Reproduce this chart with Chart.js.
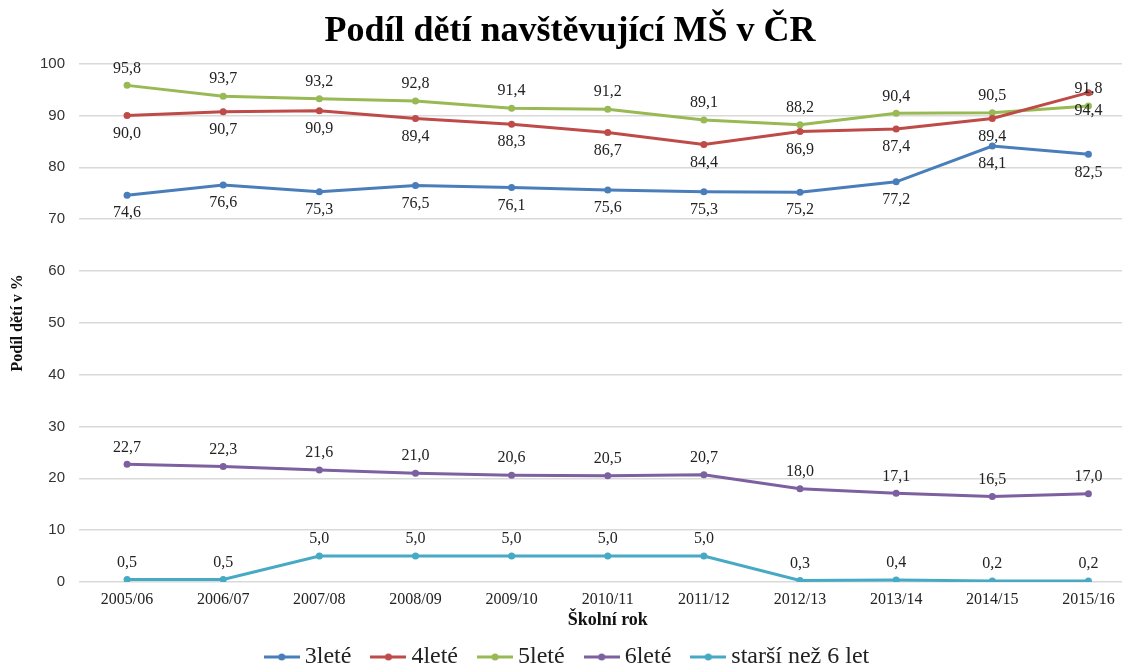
<!DOCTYPE html>
<html><head><meta charset="utf-8">
<script src="https://cdn.jsdelivr.net/npm/chart.js@4.4.0/dist/chart.umd.min.js"></script>
<style>
html,body{margin:0;padding:0;background:#fff;overflow:hidden;width:1122px;height:666px}
#wrap{position:absolute;left:0;top:0;width:1140px;height:666px}
</style></head><body>
<div id="wrap"><canvas id="c" width="1140" height="666"></canvas></div>
<script>
const categories = ['2005/06','2006/07','2007/08','2008/09','2009/10','2010/11','2011/12','2012/13','2013/14','2014/15','2015/16'];
const seriesNames = ['3leté','4leté','5leté','6leté','starší než 6 let'];
const values3 = [74.6,76.6,75.3,76.5,76.1,75.6,75.3,75.2,77.2,84.1,82.5];
const values4 = [90.0,90.7,90.9,89.4,88.3,86.7,84.4,86.9,87.4,89.4,94.4];
const values5 = [95.8,93.7,93.2,92.8,91.4,91.2,89.1,88.2,90.4,90.5,91.8];
const values6 = [22.7,22.3,21.6,21.0,20.6,20.5,20.7,18.0,17.1,16.5,17.0];
const valuesOlder = [0.5,0.5,5.0,5.0,5.0,5.0,5.0,0.3,0.4,0.2,0.2];
const labelSide = ['below','below','above','above','above'];
const colors = ['#4A7EBB','#BE4B48','#98B954','#7D60A0','#46AAC5'];
const allValues = [values3,values4,values5,values6,valuesOlder];

function legendIcon(color){
  const c = document.createElement('canvas'); c.width = 36; c.height = 12;
  const g = c.getContext('2d');
  g.strokeStyle = color; g.lineWidth = 3;
  g.beginPath(); g.moveTo(0,6); g.lineTo(36,6); g.stroke();
  g.fillStyle = color; g.beginPath(); g.arc(18,6,3.5,0,Math.PI*2); g.fill();
  return c;
}

const dataLabels = {
  id:'dataLabels',
  afterDatasetsDraw(chart){
    const ctx = chart.ctx;
    ctx.save();
    ctx.font = '16px "Liberation Serif"';
    ctx.fillStyle = '#222';
    ctx.textAlign = 'center'; ctx.textBaseline = 'middle';
    chart.data.datasets.forEach((ds,i)=>{
      const meta = chart.getDatasetMeta(i);
      meta.data.forEach((pt,j)=>{
        const v = ds.data[j];
        const t = v.toFixed(1).replace('.',',');
        const dy = labelSide[i]==='above' ? -17 : 18;
        ctx.fillText(t, pt.x, pt.y+dy);
      });
    });
    ctx.restore();
  }
};

const legendHeight = {
  id:'legendHeight',
  afterInit(chart){
    const lg = chart.legend;
    if(!lg) return;
    const f = lg.fit.bind(lg);
    lg.fit = function(){ f(); this.height = 47; };
  }
};

new Chart(document.getElementById('c'),{
  type:'line',
  data:{
    labels:categories,
    datasets: allValues.map((vals,i)=>({
      label:seriesNames[i], data:vals,
      borderColor:colors[i], backgroundColor:colors[i],
      borderWidth:3, pointRadius:3.5, pointHoverRadius:3.5, pointBorderWidth:0,
      pointStyle:'circle', tension:0,
      legendIcon: legendIcon(colors[i])
    }))
  },
  options:{
    responsive:false, animation:false,
    layout:{padding:{left:0,right:0,top:0,bottom:0}},
    plugins:{
      title:{display:true,text:'Podíl dětí navštěvující MŠ v ČR',
        font:{family:'"Liberation Serif"',size:36,weight:'bold',lineHeight:1.1},color:'#000',
        padding:{top:12,bottom:12}},
      legend:{position:'bottom',
        labels:{usePointStyle:true,pointStyleWidth:22,font:{family:'"Liberation Serif"',size:24},color:'#222',padding:26,
          generateLabels(chart){
            return chart.data.datasets.map((ds,i)=>({
              text:ds.label, pointStyle:ds.legendIcon, fillStyle:ds.borderColor,
              strokeStyle:ds.borderColor, lineWidth:0, datasetIndex:i, hidden:false,
              fontColor:'#222'
            }));
          }}},
      tooltip:{enabled:false}
    },
    scales:{
      x:{offset:true,
        afterFit(s){s.height=37;},
        grid:{display:false},
        border:{display:false},
        ticks:{font:{family:'"Liberation Serif"',size:16},color:'#222',padding:0,maxRotation:0},
        title:{display:true,text:'Školní rok',font:{family:'"Liberation Serif"',size:18,weight:'bold'},color:'#111',padding:{top:0,bottom:-12}}
      },
      y:{min:0,max:100,
        afterFit(s){s.width=79;},
        grid:{color:'#D9D9D9',lineWidth:1.5,drawTicks:false},
        border:{display:false},
        ticks:{stepSize:10,font:{family:'"Liberation Sans"',size:15},color:'#333',padding:14},
        title:{display:true,text:'Podíl dětí v %',font:{family:'"Liberation Serif"',size:16,weight:'bold'},color:'#111',padding:{top:8,bottom:0}}
      }
    }
  },
  plugins:[dataLabels, legendHeight]
});
</script>
</body></html>
